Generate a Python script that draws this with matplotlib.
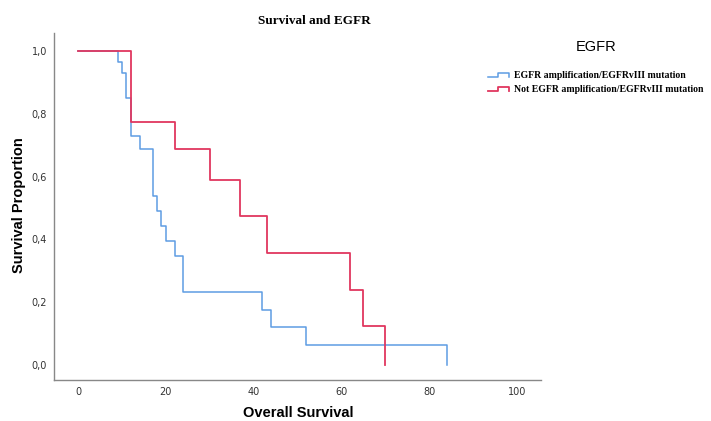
import matplotlib
matplotlib.use("Agg")
import matplotlib.pyplot as plt
from matplotlib.lines import Line2D
from matplotlib.legend_handler import HandlerBase

# ---- data ----
amp_label = "EGFR amplification/EGFRvIII mutation"
amp_times = [0, 9, 10, 11, 12, 14, 17, 18, 19, 20, 22, 24, 42, 44, 52, 84]
amp_surv = [1.0, 0.966, 0.929, 0.851, 0.730, 0.687, 0.539, 0.491, 0.443,
            0.395, 0.346, 0.232, 0.176, 0.120, 0.063, 0.0]

not_label = "Not EGFR amplification/EGFRvIII mutation"
not_times = [0, 12, 22, 30, 37, 43, 62, 65, 70]
not_surv = [1.0, 0.772, 0.687, 0.590, 0.474, 0.357, 0.240, 0.123, 0.0]

x_ticks = [0, 20, 40, 60, 80, 100]
y_ticks = [0.0, 0.2, 0.4, 0.6, 0.8, 1.0]
y_tick_labels = ["0,0", "0,2", "0,4", "0,6", "0,8", "1,0"]

blue = "#5E9CE3"
red = "#E0375F"

W, H = 711, 421
fig = plt.figure(figsize=(W / 100, H / 100), dpi=100)
ax = fig.add_axes([54 / W, 1 - 380 / H, (541 - 54) / W, (380 - 33) / H])

ax.step(amp_times, amp_surv, where="post", color=blue, lw=1.1)
ax.step(not_times, not_surv, where="post", color=red, lw=1.3)

ax.set_xlim(-5.5, 105.5)
ax.set_ylim(-0.048, 1.057)
ax.set_xticks(x_ticks)
ax.set_yticks(y_ticks)
ax.set_yticklabels(y_tick_labels)
ax.tick_params(length=0, labelsize=7, colors="#333333", pad=5)
for s in ["top", "right"]:
    ax.spines[s].set_visible(False)
for s in ["left", "bottom"]:
    ax.spines[s].set_color("#888888")
    ax.spines[s].set_linewidth(1.0)

fig.text(314 / W, 1 - 21 / H, "Survival and EGFR", ha="center", va="center",
         family="Liberation Serif", weight="bold", fontsize=9.5)
fig.text(19 / W, 1 - 205 / H, "Survival Proportion", ha="center", va="center",
         rotation=90, family="Liberation Sans", weight="bold", fontsize=10.5)
fig.text(298 / W, 1 - 413 / H, "Overall Survival", ha="center", va="center",
         family="Liberation Sans", weight="bold", fontsize=10.5)
fig.text(596 / W, 1 - 47 / H, "EGFR", ha="center", va="center",
         family="Liberation Sans", fontsize=10.5)


class StepHandler(HandlerBase):
    def create_artists(self, legend, orig_handle, xdescent, ydescent,
                       width, height, fontsize, trans):
        x0 = -xdescent
        y0 = -ydescent
        xm = x0 + width * 0.5
        xe = x0 + width
        lo = y0 + height * 0.15
        hi = y0 + height * 0.75
        xs = [x0, xm, xm, xe, xe]
        ys = [lo, lo, hi, hi, lo]
        ln = Line2D(xs, ys, color=orig_handle.get_color(),
                    lw=orig_handle.get_linewidth(), transform=trans)
        return [ln]


h1 = Line2D([], [], color=blue, lw=1.1)
h2 = Line2D([], [], color=red, lw=1.3)
fig.legend([h1, h2], [amp_label, not_label],
           handler_map={Line2D: StepHandler()},
           loc="upper left", bbox_to_anchor=(488 / W, 1 - 71 / H),
           frameon=False, borderpad=0, borderaxespad=0,
           handlelength=2.15, handletextpad=0.55, labelspacing=0.5,
           prop={"family": "Liberation Serif", "weight": "bold", "size": 7})

fig.savefig("out.png", dpi=100)
